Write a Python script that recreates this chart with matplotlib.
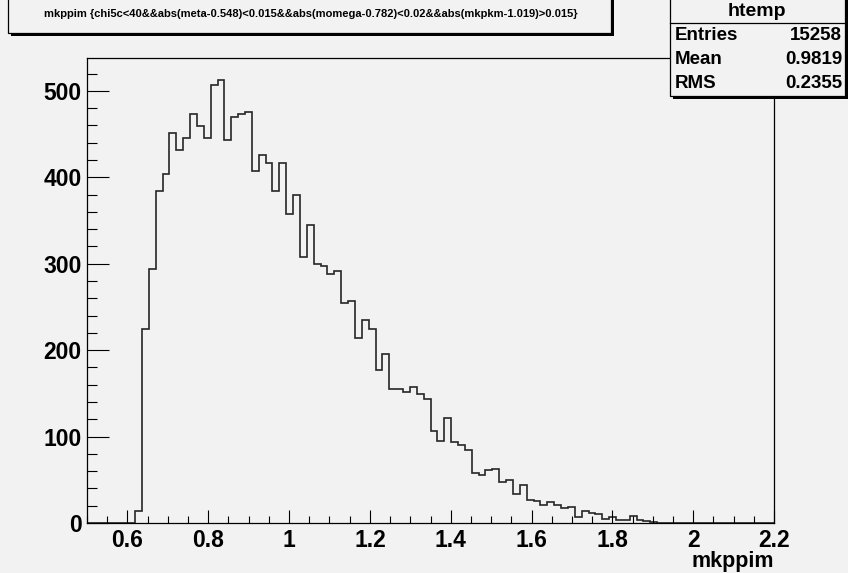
import matplotlib
matplotlib.use("Agg")
import matplotlib.pyplot as plt
from matplotlib.patches import Rectangle
from matplotlib.ticker import MultipleLocator, FuncFormatter
import numpy as np

W, H = 848, 573
bg = "#f2f2f2"
font = "Liberation Sans"

# histogram binning and contents
x_lo, x_hi, n_bins = 0.5, 2.2, 100
first_bin = 7
bin_counts = [14, 225, 294, 384, 404, 451, 431, 446, 473, 459,
              446, 507, 513, 443, 470, 473, 475, 407, 426, 417,
              384, 417, 358, 380, 308, 345, 300, 297, 288, 291,
              254, 257, 214, 235, 224, 177, 195, 155, 155, 151,
              157, 149, 144, 107, 95, 121, 94, 90, 85, 58,
              55, 61, 63, 47, 50, 34, 44, 27, 25, 21,
              24, 21, 17, 19, 7, 14, 12, 10, 5, 7,
              3, 4, 8, 3, 2, 1]
y_max = 538

title_text = ("mkppim {chi5c<40&&abs(meta-0.548)<0.015&&abs(momega-0.782)<0.02"
              "&&abs(mkpkm-1.019)>0.015}")
x_title = "mkppim"
stats_name = "htemp"
stats_labels = ["Entries", "Mean", "RMS"]
stats_values = ["15258", "0.9819", "0.2355"]

counts = np.zeros(n_bins)
counts[first_bin:first_bin + len(bin_counts)] = bin_counts
edges = np.linspace(x_lo, x_hi, n_bins + 1)


def fx(px):
    return px / W


def fy(py):
    return 1 - py / H


fig = plt.figure(figsize=(W / 100, H / 100), dpi=100, facecolor=bg)
ax = fig.add_axes([fx(87), fy(523), (774 - 87) / W, (523 - 58) / H])
ax.set_facecolor(bg)
ax.stairs(counts, edges, color="#262626", lw=1.2)
ax.set_xlim(x_lo, x_hi)
ax.set_ylim(0, y_max)

ax.xaxis.set_major_locator(MultipleLocator(0.2))
ax.xaxis.set_minor_locator(MultipleLocator(0.05))
ax.yaxis.set_major_locator(MultipleLocator(100))
ax.yaxis.set_minor_locator(MultipleLocator(20))
ax.xaxis.set_major_formatter(FuncFormatter(lambda v, p: "%g" % round(v, 3)))

ax.tick_params(axis="x", which="major", direction="in", length=9.5, width=0.8, pad=4)
ax.tick_params(axis="x", which="minor", direction="in", length=5, width=0.8)
ax.tick_params(axis="y", which="major", direction="in", length=15.5, width=0.8, pad=4)
ax.tick_params(axis="y", which="minor", direction="in", length=7.5, width=0.8)
for lab in ax.get_xticklabels() + ax.get_yticklabels():
    lab.set_fontfamily(font)
    lab.set_fontweight("bold")
    lab.set_fontsize(16.5)
for sp in ax.spines.values():
    sp.set_linewidth(0.9)

fig.text(fx(774), fy(562), x_title, ha="right", va="center",
         fontfamily=font, fontweight="bold", fontsize=15.5)


def pave(x0, y0, x1, y1, shadow=3):
    fig.patches.append(Rectangle((fx(x0 + shadow), fy(y1 + shadow)),
                                 (x1 - x0) / W, (y1 - y0) / H,
                                 transform=fig.transFigure, facecolor="black",
                                 edgecolor="none", zorder=5))
    fig.patches.append(Rectangle((fx(x0), fy(y1)), (x1 - x0) / W, (y1 - y0) / H,
                                 transform=fig.transFigure, facecolor=bg,
                                 edgecolor="black", lw=0.9, zorder=6))


# title box
pave(8, -5, 611, 33)
t = fig.text(fx(44), fy(14), title_text, ha="left", va="center",
             fontfamily=font, fontweight="bold", fontsize=7, zorder=7)
fig.canvas.draw()
bb = t.get_window_extent(renderer=fig.canvas.get_renderer())
t.set_fontsize(7 * 530 / bb.width)

# stats box
pave(670, -5, 845, 96)
fig.lines.append(plt.Line2D([fx(670), fx(845)], [fy(23), fy(23)],
                            transform=fig.transFigure, color="black", lw=0.9, zorder=7))
fig.text(fx(757), fy(11), stats_name, ha="center", va="center",
         fontfamily=font, fontweight="bold", fontsize=14, zorder=7)
for i, (lab, val) in enumerate(zip(stats_labels, stats_values)):
    yy = fy(36 + 24 * i)
    fig.text(fx(675), yy, lab, ha="left", va="center",
             fontfamily=font, fontweight="bold", fontsize=13.5, zorder=7)
    fig.text(fx(842), yy, val, ha="right", va="center",
             fontfamily=font, fontweight="bold", fontsize=13.5, zorder=7)

fig.savefig("out.png", dpi=100, facecolor=bg)
